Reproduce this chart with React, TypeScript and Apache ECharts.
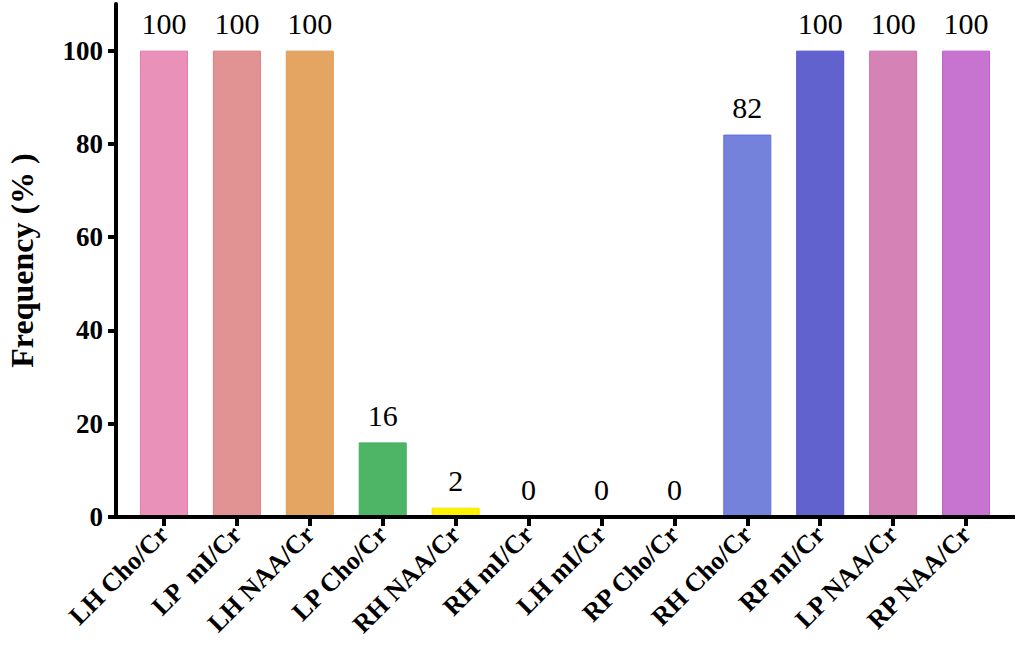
import React, { useEffect, useRef } from "react";
import * as echarts from "echarts";

const categories = [
  "LH Cho/Cr",
  "LP  mI/Cr",
  "LH NAA/Cr",
  "LP Cho/Cr",
  "RH NAA/Cr",
  "RH mI/Cr",
  "LH mI/Cr",
  "RP Cho/Cr",
  "RH Cho/Cr",
  "RP mI/Cr",
  "LP NAA/Cr",
  "RP NAA/Cr",
];
const values = [100, 100, 100, 16, 2, 0, 0, 0, 82, 100, 100, 100];
const barColors = [
  "#EA91B9",
  "#E09392",
  "#E4A462",
  "#4EB566",
  "#FFF200",
  "#B0B0B0",
  "#B0B0B0",
  "#B0B0B0",
  "#7482DB",
  "#6262CE",
  "#D583B7",
  "#C674CF",
];
const borderColors = [
  "#E27BAA",
  "#D87E7E",
  "#E09A55",
  "#45AE5E",
  "#F2E600",
  "#999999",
  "#999999",
  "#999999",
  "#6070E0",
  "#5050D0",
  "#CD70AA",
  "#C05FCA",
];
const yTicks = [0, 20, 40, 60, 80, 100];

const SERIF = "Liberation Serif";

export default function App() {
  const ref = useRef<HTMLDivElement>(null);
  useEffect(() => {
    document.body.style.margin = "0";
    if (!ref.current) return;
    const chart = echarts.init(ref.current, undefined, { renderer: "svg" });
    const gridLeft = 127.5;
    const gridRight = 17.5;
    const gridTop = 4;
    const gridBottom = 129;
    chart.setOption({
      animation: false,
      backgroundColor: "#ffffff",
      textStyle: { fontFamily: SERIF },
      grid: {
        left: gridLeft,
        right: gridRight,
        top: gridTop,
        bottom: gridBottom,
        containLabel: false,
        outerBoundsMode: "none",
      },
      xAxis: {
        type: "category",
        data: categories,
        axisLine: { show: false },
        axisTick: {
          show: true,
          alignWithLabel: true,
          length: 9,
          lineStyle: { color: "#000", width: 4 },
        },
        axisLabel: {
          rotate: 45,
          interval: 0,
          margin: 13,
          color: "#000",
          fontFamily: SERIF,
          fontWeight: "bold",
          fontSize: 26,
        },
      },
      yAxis: {
        type: "value",
        min: 0,
        max: 110,
        interval: 20,
        offset: 11.5,
        name: "Frequency (% )",
        nameLocation: "middle",
        nameGap: 78,
        nameTextStyle: {
          color: "#000",
          fontFamily: SERIF,
          fontWeight: "bold",
          fontSize: 32,
        },
        axisLine: { show: true, lineStyle: { color: "#000", width: 4 } },
        axisTick: {
          show: true,
          length: 8,
          customValues: yTicks,
          lineStyle: { color: "#000", width: 4 },
        },
        axisLabel: {
          customValues: yTicks,
          margin: 13,
          color: "#000",
          fontFamily: SERIF,
          fontWeight: "bold",
          fontSize: 27,
        },
        splitLine: { show: false },
      },
      graphic: [
        {
          type: "line",
          shape: { x1: 108, y1: 646 - gridBottom, x2: 1015, y2: 646 - gridBottom },
          style: { stroke: "#000", lineWidth: 4 },
          z: 100,
        },
      ],
      series: [
        {
          type: "bar",
          barWidth: 48,
          data: values.map((v, i) => ({
            value: v,
            itemStyle: {
              color: barColors[i],
              borderColor: borderColors[i],
              borderWidth: 1,
            },
          })),
          label: {
            show: true,
            position: "top",
            distance: 12,
            color: "#000",
            fontFamily: SERIF,
            fontWeight: "normal",
            fontSize: 30,
          },
        },
      ],
    });
    return () => chart.dispose();
  }, []);
  return <div ref={ref} style={{ width: 1020, height: 646 }} />;
}
